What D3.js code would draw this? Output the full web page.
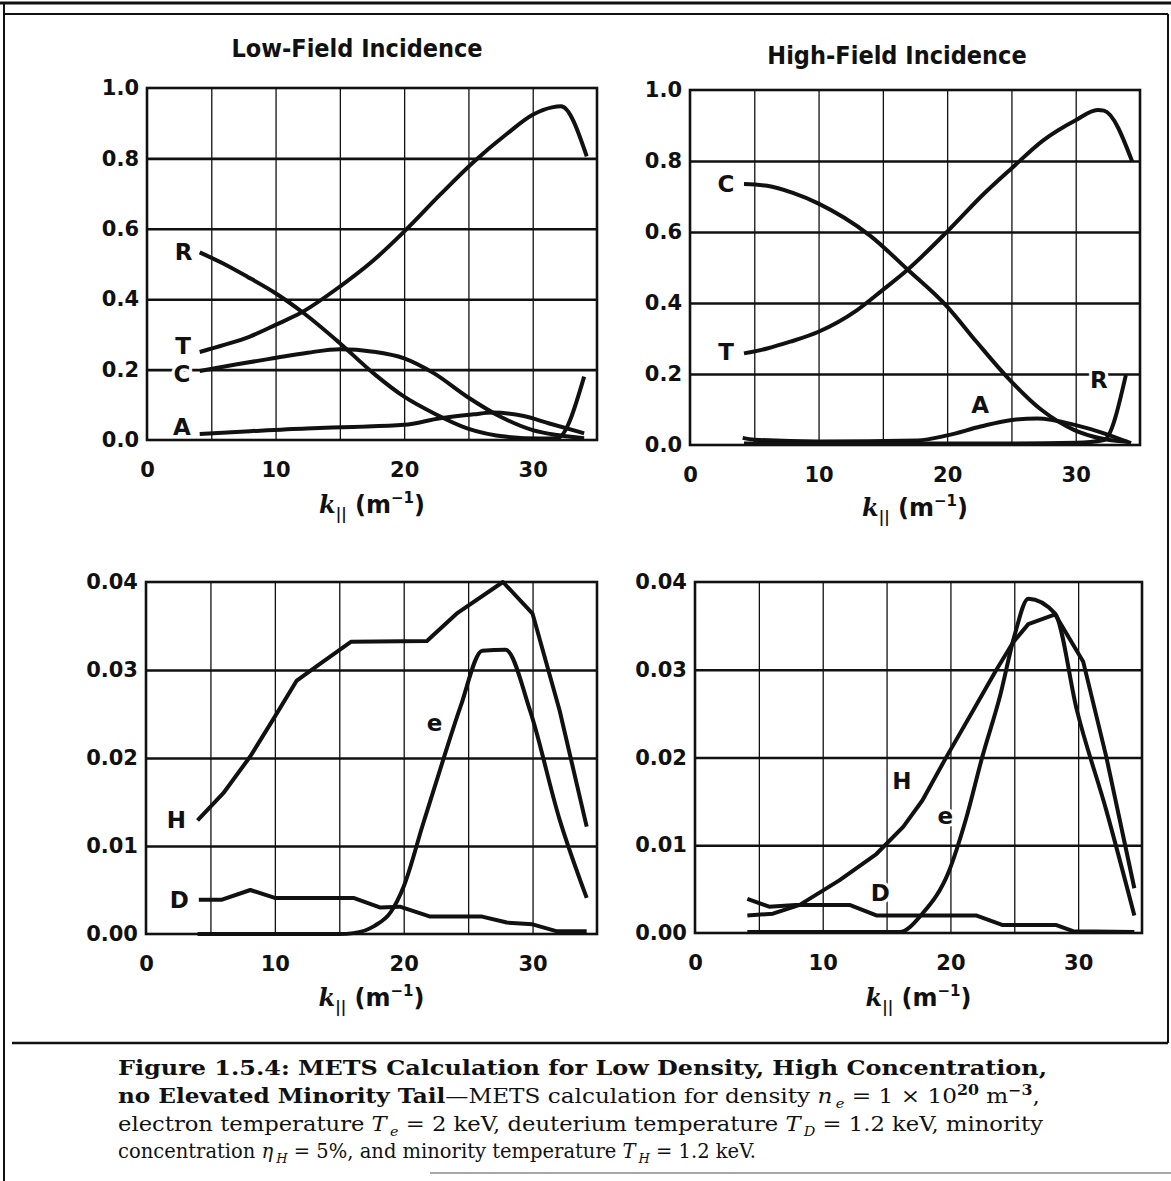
<!DOCTYPE html>
<html>
<head>
<meta charset="utf-8">
<script src="https://cdn.jsdelivr.net/npm/d3@7"></script>
<style>
  body { margin: 0; background: #fff; }
  svg { display: block; }
</style>
</head>
<body>
<script>
// values: [k_parallel (m^-1), fraction]
const kTicks = [0, 10, 20, 30];
const kGrid = [5, 10, 15, 20, 25, 30];
const powerTicks = [0, 0.2, 0.4, 0.6, 0.8, 1.0];
const absTicks = [0, 0.01, 0.02, 0.03, 0.04];

// low-field incidence, power fractions
const lowT = [[4.1,0.25],[6,0.27],[8,0.294],[10,0.327],[12,0.362],[15,0.436],[17.6,0.51],[20,0.592],[22.8,0.697],[25.4,0.79],[28,0.87],[30,0.924],[31.5,0.945],[32.2,0.948],[34.2,0.806]];
const lowR = [[4.1,0.533],[6,0.5],[7.8,0.464],[10,0.417],[12.2,0.36],[15,0.275],[17.6,0.19],[20,0.123],[22.3,0.076],[24.9,0.033],[28,0.009],[30.6,0.004],[31.9,0.005],[34,0.18]];
const lowC = [[4.1,0.196],[7,0.215],[9.8,0.232],[12.5,0.248],[15,0.258],[17.6,0.251],[20,0.232],[22.3,0.19],[24.9,0.123],[27.5,0.066],[30,0.028],[31.9,0.014],[34,0.005]];
const lowA = [[4.1,0.017],[8,0.025],[12.4,0.033],[16,0.037],[20,0.043],[22.8,0.062],[25.4,0.073],[26.9,0.078],[29.3,0.068],[31.3,0.047],[34,0.019]];

// high-field incidence, power fractions
const highT = [[4.2,0.258],[6,0.272],[7.8,0.291],[10,0.319],[13,0.38],[15,0.437],[16.9,0.493],[20,0.601],[22.9,0.709],[25,0.779],[27.5,0.859],[30,0.915],[31.7,0.944],[32.2,0.942],[34.4,0.798]];
const highC = [[4.2,0.735],[6,0.73],[8,0.71],[10,0.68],[12,0.64],[14,0.59],[16.9,0.495],[20,0.39],[22.3,0.29],[24.7,0.19],[27.3,0.1],[29.9,0.042],[31.9,0.019],[34,0.009]];
const highA = [[4.1,0.02],[5,0.015],[10,0.01],[17.7,0.013],[20,0.027],[22.6,0.052],[24.9,0.07],[27,0.075],[30,0.056],[32.2,0.033],[34.3,0.005]];
const highR = [[4.2,0.004],[15,0.004],[25,0.004],[30,0.006],[32.2,0.014],[33.9,0.197]];

// low-field incidence, absorbed by species
const lowH = [[4,0.0129],[6,0.016],[8.1,0.0202],[10,0.0247],[11.7,0.0288],[13.5,0.0307],[15.9,0.0332],[21.8,0.0333],[24.1,0.0364],[27.7,0.040],[30,0.0364],[32.1,0.0254],[34.2,0.0122]];
const lowE = [[4,0],[15,0],[16.1,0.0001],[17.7,0.0009],[19,0.0025],[20,0.0054],[21.5,0.0125],[23,0.0195],[24.4,0.0258],[26.1,0.0322],[27.9,0.0323],[29.8,0.0254],[32.1,0.013],[34.2,0.0041]];
const lowD = [[4.1,0.0039],[5.9,0.0039],[8.1,0.005],[10,0.0041],[16.1,0.0041],[18.2,0.003],[19.7,0.0031],[22,0.002],[26,0.002],[28,0.0013],[30,0.0011],[31.9,0.0003],[34.2,0.0003]];

// high-field incidence, absorbed by species
const highH = [[4.1,0.002],[6.1,0.0022],[8.2,0.0032],[11.3,0.006],[14.2,0.009],[16.3,0.0121],[17.8,0.0151],[19.7,0.0201],[21.8,0.0254],[23.6,0.030],[24.9,0.0331],[26.1,0.0352],[28.2,0.0363],[30.4,0.0309],[32.2,0.0201],[34.4,0.0051]];
const highE = [[4.1,0.0001],[16,0.0001],[17.8,0.0022],[19.9,0.0071],[21.2,0.0129],[22.5,0.0201],[23.9,0.0271],[25,0.0338],[26.1,0.0381],[28.2,0.0364],[29.9,0.0254],[32.2,0.014],[34.4,0.002]];
const highD = [[4.1,0.0039],[5.8,0.003],[7.9,0.0032],[12.1,0.0032],[14.2,0.002],[22,0.002],[24.1,0.0009],[28.3,0.0009],[29.6,0.0002],[34.4,0.0001]];

// curve labels: [text, k, value]
const lowPowerLabels = [["R",2.84,0.534],["T",2.8,0.267],["C",2.72,0.1875],["A",2.72,0.037]];
const highPowerLabels = [["C",2.8,0.735],["T",2.8,0.262],["A",22.56,0.113],["R",31.8,0.183]];
const lowAbsLabels = [["H",2.35,0.01295],["D",2.58,0.00386],["e",22.4,0.024]];
const highAbsLabels = [["H",16.2,0.0173],["e",19.6,0.0134],["D",14.5,0.00455]];

const titles = ["Low-Field Incidence", "High-Field Incidence"];

const W = 1171, H = 1181;
const ink = "#111";
const sans = "DejaVu Sans";
const serif = "DejaVu Serif";
const smooth = d3.curveMonotoneX, straight = d3.curveLinear;

const svg = d3.select("body").append("svg")
  .attr("width", W).attr("height", H);

// outer page frame
const frame = svg.append("g").attr("stroke", ink).attr("fill", "none");
frame.append("line").attr("x1",0).attr("x2",W).attr("y1",3).attr("y2",3).attr("stroke-width",3);
frame.append("line").attr("x1",4).attr("x2",4).attr("y1",3).attr("y2",H).attr("stroke-width",2);
frame.append("line").attr("x1",4).attr("x2",1168).attr("y1",14).attr("y2",14).attr("stroke-width",2);
frame.append("line").attr("x1",1168).attr("x2",1168).attr("y1",14).attr("y2",1043).attr("stroke-width",2);
frame.append("line").attr("x1",12).attr("x2",1168).attr("y1",1043).attr("y2",1043).attr("stroke-width",2.5);
frame.append("line").attr("x1",430).attr("x2",W).attr("y1",1173).attr("y2",1173).attr("stroke-width",1.5).attr("stroke","#888");

const panels = [
  {box:[147,88,597,440], ymax:1, ticks:powerTicks, fmt:".1f",
   series:[lowT,lowR,lowC,lowA], curves:[smooth,smooth,smooth,smooth],
   labels:lowPowerLabels, title:titles[0], titleX:357, titleY:57, axisY:513},
  {box:[690,90,1140,445], ymax:1, ticks:powerTicks, fmt:".1f",
   series:[highT,highC,highA,highR], curves:[smooth,smooth,smooth,smooth],
   labels:highPowerLabels, title:titles[1], titleX:897, titleY:64, axisY:516},
  {box:[146,582,597,934], ymax:0.04, ticks:absTicks, fmt:".2f",
   series:[lowH,lowE,lowD], curves:[straight,smooth,straight],
   labels:lowAbsLabels, axisY:1006},
  {box:[695,582,1142,933], ymax:0.04, ticks:absTicks, fmt:".2f",
   series:[highH,highE,highD], curves:[straight,smooth,straight],
   labels:highAbsLabels, axisY:1006}
];

panels.forEach(p => drawPanel(p));

function drawPanel(p) {
  const [x0, y0, x1, y1] = p.box;
  const x = d3.scaleLinear().domain([0, 35]).range([x0, x1]);
  const y = d3.scaleLinear().domain([0, p.ymax]).range([y1, y0]);
  const g = svg.append("g");

  // vertical grid lines (thin)
  g.append("g")
    .attr("transform", `translate(0,${y1})`)
    .call(d3.axisBottom(x).tickValues(kGrid).tickSize(-(y1 - y0)).tickFormat(""))
    .call(a => a.select(".domain").remove())
    .selectAll("line").attr("stroke", ink).attr("stroke-width", 1.3);

  // horizontal grid lines (heavy)
  g.append("g")
    .attr("transform", `translate(${x0},0)`)
    .call(d3.axisLeft(y).tickValues(p.ticks.slice(1, -1)).tickSize(-(x1 - x0)).tickFormat(""))
    .call(a => a.select(".domain").remove())
    .selectAll("line").attr("stroke", ink).attr("stroke-width", 2.6);

  g.append("rect")
    .attr("x", x0).attr("y", y0)
    .attr("width", x1 - x0).attr("height", y1 - y0)
    .attr("fill", "none").attr("stroke", ink).attr("stroke-width", 2.6);

  // tick labels
  g.append("g")
    .attr("transform", `translate(${x0},0)`)
    .call(d3.axisLeft(y).tickValues(p.ticks).tickSize(0).tickPadding(8).tickFormat(d3.format(p.fmt)))
    .call(a => a.select(".domain").remove())
    .attr("font-family", sans).attr("font-size", 21).attr("font-weight", "bold")
    .selectAll("text").attr("fill", ink);

  g.append("g")
    .attr("transform", `translate(0,${y1})`)
    .call(d3.axisBottom(x).tickValues(kTicks).tickSize(0).tickPadding(22).tickFormat(d3.format("d")))
    .call(a => a.select(".domain").remove())
    .attr("font-family", sans).attr("font-size", 21).attr("font-weight", "bold")
    .selectAll("text").attr("fill", ink);

  // curves
  g.selectAll("path.curve")
    .data(p.series)
    .enter()
    .append("path")
      .attr("class", "curve")
      .attr("d", (d, i) => d3.line()
        .x(v => x(v[0]))
        .y(v => y(v[1]))
        .curve(p.curves[i])(d))
      .attr("fill", "none")
      .attr("stroke", ink)
      .attr("stroke-width", 4)
      .attr("stroke-linejoin", "round");

  // curve labels, with a white halo that breaks the grid like the print
  g.selectAll("text.lab")
    .data(p.labels)
    .enter()
    .append("text")
      .attr("class", "lab")
      .attr("x", d => x(d[1]))
      .attr("y", d => y(d[2]))
      .attr("dy", "0.36em")
      .attr("text-anchor", "middle")
      .attr("font-family", sans)
      .attr("font-weight", "bold")
      .attr("font-size", 23)
      .attr("fill", ink)
      .attr("stroke", "#fff")
      .attr("stroke-width", 6)
      .attr("paint-order", "stroke")
      .text(d => d[0]);

  if (p.title) {
    svg.append("text")
      .attr("x", p.titleX).attr("y", p.titleY)
      .attr("text-anchor", "middle")
      .attr("font-family", "'DejaVu Sans Condensed', 'DejaVu Sans'")
      .attr("font-weight", "bold")
      .attr("font-size", 25)
      .attr("fill", ink)
      .text(p.title);
  }

  // x axis title: k_|| (m^-1)
  const t = svg.append("text")
    .attr("x", (x0 + x1) / 2).attr("y", p.axisY)
    .attr("text-anchor", "middle")
    .attr("font-family", sans).attr("font-weight", "bold")
    .attr("font-size", 24).attr("fill", ink);
  t.append("tspan").attr("font-family", serif).attr("font-style", "italic").text("k");
  t.append("tspan").attr("font-size", 15).attr("dy", 6).text("||");
  t.append("tspan").attr("dy", -6).text(" (m");
  t.append("tspan").attr("font-size", 15).attr("dy", -10).text("\u22121");
  t.append("tspan").attr("dy", 10).text(")");
}

// caption
const cap = svg.append("g").attr("font-family", serif).attr("font-size", 20.5).attr("fill", ink);

// italic symbol with a small italic subscript
function mathSub(el, sym, sub) {
  el.append("tspan").attr("font-style", "italic").text(sym);
  el.append("tspan").attr("font-style", "italic").attr("font-size", 13)
    .attr("dx", 3).attr("dy", 5).text(sub);
}

cap.append("text").attr("x", 118).attr("y", 1075)
  .attr("font-weight", "bold")
  .attr("textLength", 929).attr("lengthAdjust", "spacingAndGlyphs")
  .text("Figure 1.5.4: METS Calculation for Low Density, High Concentration,");

const c2 = cap.append("text").attr("x", 118).attr("y", 1103)
  .attr("textLength", 922).attr("lengthAdjust", "spacingAndGlyphs");
c2.append("tspan").attr("font-weight", "bold").text("no Elevated Minority Tail");
c2.append("tspan").text("\u2014METS calculation for density ");
mathSub(c2, "n", "e");
c2.append("tspan").attr("dy", -5).text(" = 1 \u00d7 10");
c2.append("tspan").attr("font-size", 14).attr("font-weight", "bold").attr("dy", -8).text("20");
c2.append("tspan").attr("dy", 8).text(" m");
c2.append("tspan").attr("font-size", 14).attr("font-weight", "bold").attr("dy", -8).text("\u22123");
c2.append("tspan").attr("dy", 8).text(",");

const c3 = cap.append("text").attr("x", 118).attr("y", 1131)
  .attr("textLength", 925).attr("lengthAdjust", "spacingAndGlyphs");
c3.append("tspan").text("electron temperature ");
mathSub(c3, "T", "e");
c3.append("tspan").attr("dy", -5).text(" = 2 keV, deuterium temperature ");
mathSub(c3, "T", "D");
c3.append("tspan").attr("dy", -5).text(" = 1.2 keV, minority");

// last line is set at its natural width
const c4 = cap.append("text").attr("x", 118).attr("y", 1158).attr("font-size", 19.5);
c4.append("tspan").text("concentration ");
mathSub(c4, "\u03b7", "H");
c4.append("tspan").attr("dy", -5).text(" = 5%, and minority temperature ");
mathSub(c4, "T", "H");
c4.append("tspan").attr("dy", -5).text(" = 1.2 keV.");
</script>
</body>
</html>
